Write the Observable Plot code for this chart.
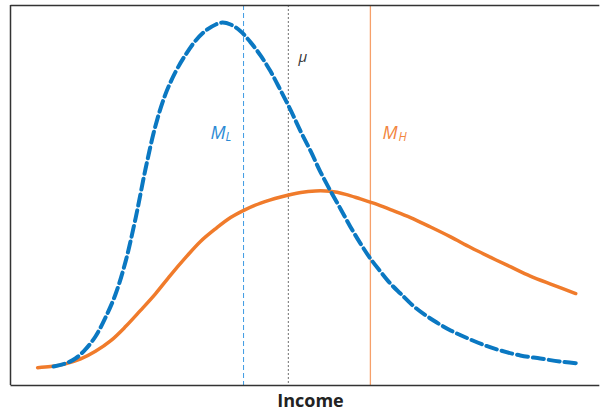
<!DOCTYPE html>
<html>
<head>
<meta charset="utf-8">
<script src="https://cdn.jsdelivr.net/npm/d3@7"></script>
<script src="https://cdn.jsdelivr.net/npm/@observablehq/plot@0.6"></script>
<style>
  html, body { margin: 0; padding: 0; background: #fff; overflow: hidden; }
  #chart svg { display: block; font-family: "Open Sans", "Noto Sans", sans-serif; }
</style>
</head>
<body>
<div id="chart"></div>
<script>
// Income distribution of the low-inequality group (L): income and density
const incomeL = [7.3, 9.3, 11.0, 12.7, 14.4, 16.1, 17.8, 19.5, 21.2, 22.9, 24.6, 26.3, 28.0, 29.7, 31.4, 33.1, 34.8, 35.9, 37.3, 39.0, 40.7, 42.4, 44.1, 45.8, 47.5, 49.2, 50.9, 52.5, 54.2, 55.9, 57.6, 59.3, 61.0, 62.7, 64.4, 66.1, 68.6, 71.7, 74.6, 77.5, 80.5, 83.1, 86.4, 89.8, 93.2, 96.4];
const densityL = [5.0, 5.8, 7.1, 9.5, 12.9, 17.9, 24.0, 32.6, 44.0, 57.1, 68.5, 76.8, 82.6, 87.1, 90.8, 93.4, 95.0, 95.5, 95.0, 93.2, 90.3, 86.8, 82.6, 77.6, 72.4, 66.8, 61.6, 56.3, 51.3, 46.6, 41.8, 37.4, 33.4, 30.0, 26.8, 24.2, 20.5, 17.1, 14.5, 12.4, 10.5, 9.2, 7.9, 7.1, 6.3, 5.8];

// Income distribution of the high-inequality group (H): income and density
const incomeH = [4.6, 6.8, 9.3, 11.9, 14.4, 17.0, 19.5, 22.0, 24.6, 27.1, 29.7, 32.2, 34.8, 37.3, 39.8, 42.4, 45.8, 49.2, 51.7, 54.2, 56.8, 59.3, 61.9, 64.4, 67.8, 71.2, 74.6, 78.0, 81.4, 84.8, 88.1, 91.9, 95.8];
const densityH = [4.7, 5.0, 5.7, 7.0, 9.0, 11.8, 15.5, 19.7, 24.2, 29.0, 33.7, 37.9, 41.3, 44.2, 46.3, 48.0, 49.6, 50.8, 51.2, 51.1, 50.3, 49.1, 47.8, 46.3, 44.2, 41.7, 39.1, 36.3, 33.7, 31.2, 28.8, 26.5, 24.2];

// Reference incomes: median of L, mean, median of H
const medianL = 39.5;
const meanIncome = 47.1;
const medianH = 61.0;

const axisTitle = "Income";

const xDomain = [0, 100];
const yDomain = [0, 100];
// the open frame's horizontal edges stop just short of the right edge
const frameEnd = 99.8;

const blue = "#0a78c2";
const ruleBlue = "#3d9be3";
const labelBlue = "#2a8ad4";
const orange = "#f07b2b";
const ruleOrange = "#f6a06a";
const labelOrange = "#f28640";
const frameColor = "#333";

const seriesL = incomeL.map((x, i) => ({x, y: densityL[i]}));
const seriesH = incomeH.map((x, i) => ({x, y: densityH[i]}));

// vertical height (density units) at which the marker labels sit
const medianLabelY = 66.5;
const meanLabelY = 86.5;

const chart = Plot.plot({
  width: 600,
  height: 417,
  marginLeft: 10,
  marginRight: 0,
  marginTop: 5,
  marginBottom: 32,
  x: {domain: xDomain, axis: null},
  y: {domain: yDomain, axis: null},
  marks: [
    // vertical reference lines
    Plot.ruleX([medianL], {stroke: ruleBlue, strokeWidth: 1, strokeDasharray: "5,3"}),
    Plot.ruleX([meanIncome], {stroke: "#888", strokeWidth: 1.2, strokeDasharray: "2,2"}),
    Plot.ruleX([medianH], {stroke: ruleOrange, strokeWidth: 1.3}),
    // density curves
    Plot.line(seriesH, {x: "x", y: "y", curve: "catmull-rom", stroke: orange, strokeWidth: 3.5}),
    Plot.line(seriesL, {x: "x", y: "y", curve: "catmull-rom", stroke: blue, strokeWidth: 4, strokeDasharray: "11,5"}),
    // frame: left, top and bottom edges (open on the right)
    Plot.ruleX([xDomain[0]], {stroke: frameColor, strokeWidth: 1.5}),
    Plot.link(yDomain, {x1: xDomain[0], x2: frameEnd, y1: d => d, y2: d => d, stroke: frameColor, strokeWidth: 1.5}),
    // labels for the reference lines
    Plot.text([medianL], {x: d => d, y: medianLabelY, text: () => "M", dx: -33, textAnchor: "start", fill: labelBlue, fontSize: 18, fontStyle: "italic"}),
    Plot.text([medianL], {x: d => d, y: medianLabelY, text: () => "L", dx: -18, dy: 4, textAnchor: "start", fill: labelBlue, fontSize: 12, fontStyle: "italic"}),
    Plot.text([medianH], {x: d => d, y: medianLabelY, text: () => "M", dx: 12, textAnchor: "start", fill: labelOrange, fontSize: 18, fontStyle: "italic"}),
    Plot.text([medianH], {x: d => d, y: medianLabelY, text: () => "H", dx: 28, dy: 4, textAnchor: "start", fill: labelOrange, fontSize: 12, fontStyle: "italic"}),
    Plot.text([meanIncome], {x: d => d, y: meanLabelY, text: () => "μ", dx: 10, textAnchor: "start", fill: "#333", fontSize: 15, fontStyle: "italic"}),
    // axis title
    Plot.text([axisTitle], {frameAnchor: "bottom", dx: 5, dy: 21, fill: "#222", fontSize: 18, fontWeight: "bold"})
  ]
});

document.getElementById("chart").append(chart);
</script>
</body>
</html>
